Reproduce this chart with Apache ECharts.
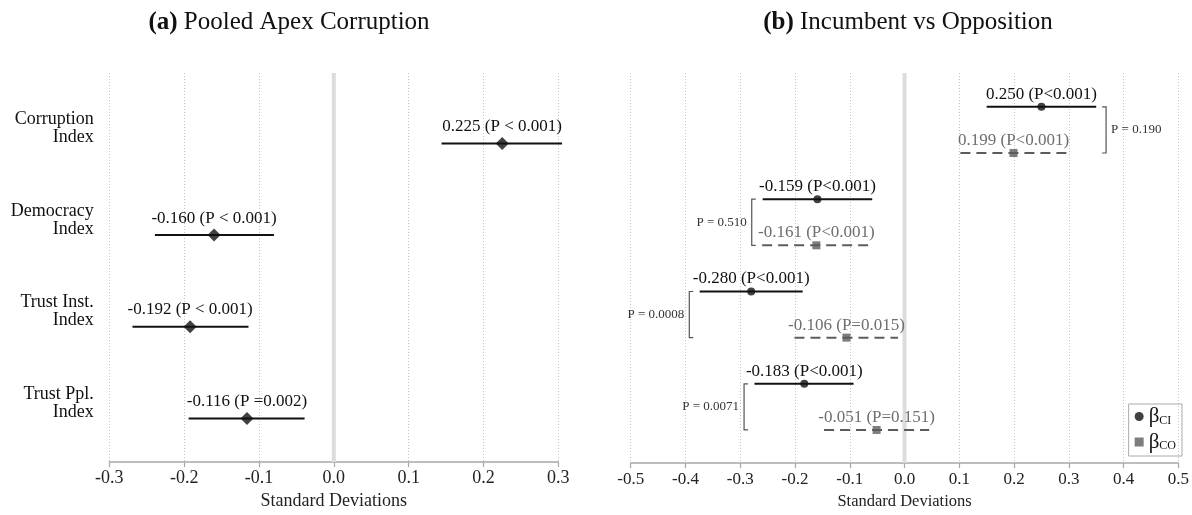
<!DOCTYPE html>
<html>
<head>
<meta charset="utf-8">
<script src="https://cdn.jsdelivr.net/npm/echarts@6/dist/echarts.min.js"></script>
<style>
  html, body { margin: 0; padding: 0; background: #fff; }
  #chart { width: 1192px; height: 515px; }
</style>
</head>
<body>
<div id="chart"></div>
<script>
// Outcome names (rows, top to bottom)
const outcomes = ['Corruption\nIndex', 'Democracy\nIndex', 'Trust Inst.\nIndex', 'Trust Ppl.\nIndex'];

// (a) pooled apex corruption effects
const pooledEst = [0.225, -0.160, -0.192, -0.116];
const pooledLo  = [0.144, -0.239, -0.269, -0.194];
const pooledHi  = [0.305, -0.080, -0.114, -0.039];
const pooledP   = ['P < 0.001', 'P < 0.001', 'P < 0.001', 'P =0.002'];

// (b) incumbent (CI) vs opposition (CO) effects
const ciEst = [0.250, -0.159, -0.280, -0.183];
const ciLo  = [0.150, -0.259, -0.374, -0.274];
const ciHi  = [0.350, -0.059, -0.186, -0.093];
const ciP   = ['P<0.001', 'P<0.001', 'P<0.001', 'P<0.001'];

const coEst = [0.199, -0.161, -0.106, -0.051];
const coLo  = [0.102, -0.260, -0.201, -0.147];
const coHi  = [0.296, -0.061, -0.012, 0.045];
const coP   = ['P<0.001', 'P<0.001', 'P=0.015', 'P=0.151'];

// difference tests between CI and CO, bracket placed beside the pair
const diffP    = ['P = 0.190', 'P = 0.510', 'P = 0.0008', 'P = 0.0071'];
const diffSide = ['right', 'left', 'left', 'left'];

const F = 'Liberation Serif, Times New Roman, serif';
const INK = '#111';
const GREY = '#5c5c5c';
const GREY_TXT = '#6e6e6e';

const fmtTick = v => (Math.abs(v) < 1e-9 ? '0.0' : v.toFixed(1));

function xAxisDef(gridIndex, min, max, fs, nameFs, margin) {
  return {
    gridIndex, type: 'value', min, max, interval: 0.1,
    name: 'Standard Deviations', nameLocation: 'middle', nameGap: 27,
    nameTextStyle: { fontFamily: F, fontSize: nameFs, color: '#222' },
    axisLine: { onZero: false, lineStyle: { color: '#a8a8a8', width: 1.5 } },
    axisTick: { length: 5, lineStyle: { color: '#a8a8a8', width: 1.2 } },
    axisLabel: { margin, fontFamily: F, fontSize: fs, color: '#222', formatter: fmtTick },
    splitLine: { show: true, lineStyle: { color: '#c4c4c4', type: [1, 2], width: 1 } }
  };
}

// horizontal interval with its value label above the estimate
function intervalRenderer(texts, color, dash, gap, fs, txtColor) {
  return function (params, api) {
    const row = api.value(0);
    const a = api.coord([api.value(1), row]);
    const b = api.coord([api.value(2), row]);
    const c = api.coord([api.value(3), row]);
    return {
      type: 'group',
      children: [
        { type: 'line', shape: { x1: a[0], y1: a[1], x2: b[0], y2: b[1] },
          style: { stroke: color, lineWidth: 2, lineDash: dash } },
        { type: 'text', x: c[0], y: c[1] - gap,
          style: { text: texts[params.dataIndex], fontFamily: F, fontSize: fs,
                   fill: txtColor, align: 'center', verticalAlign: 'middle' } }
      ]
    };
  };
}

// vertical reference line at zero spanning the plot height
function zeroRenderer(yMin, yMax) {
  return function (params, api) {
    const a = api.coord([0, yMin]);
    const b = api.coord([0, yMax]);
    return { type: 'line', shape: { x1: a[0], y1: a[1], x2: b[0], y2: b[1] },
             style: { stroke: '#dcdcdc', lineWidth: 4 } };
  };
}

const labelA = pooledEst.map((v, i) => `${v.toFixed(3)} (${pooledP[i]})`);
const labelCI = ciEst.map((v, i) => `${v.toFixed(3)} (${ciP[i]})`);
const labelCO = coEst.map((v, i) => `${v.toFixed(3)} (${coP[i]})`);

const rowsA = outcomes.map((_, i) => i + 1);
const rowsCI = outcomes.map((_, i) => 2 * i + 1);
const rowsCO = outcomes.map((_, i) => 2 * i + 2);

const A_MIN = 0.231, A_MAX = 4.477;
const B_MIN = 0.267, B_MAX = 8.718;

// bracket x-position: just beyond the outermost interval end on its side
const bracketX = outcomes.map((_, i) => diffSide[i] === 'right'
  ? Math.max(ciHi[i], coHi[i]) + 0.018
  : Math.min(ciLo[i], coLo[i]) - 0.019);

const option = {
  backgroundColor: '#fff',
  animation: false,
  title: [
    { text: '{b|(a)} Pooled Apex Corruption', left: 284, top: 5, textAlign: 'center',
      textStyle: { fontFamily: F, fontSize: 25, fontWeight: 'normal', color: INK,
        rich: { b: { fontFamily: F, fontSize: 25, fontWeight: 'bold', color: INK } } } },
    { text: '{b|(b)} Incumbent vs Opposition', left: 903, top: 5, textAlign: 'center',
      textStyle: { fontFamily: F, fontSize: 25, fontWeight: 'normal', color: INK,
        rich: { b: { fontFamily: F, fontSize: 25, fontWeight: 'bold', color: INK } } } }
  ],
  grid: [
    { left: 109.3, width: 449, top: 73, bottom: 50 },
    { left: 630.7, width: 552.5, top: 73, bottom: 50 }
  ],
  xAxis: [
    xAxisDef(0, -0.3, 0.3, 18, 18, 7),
    xAxisDef(1, -0.5, 0.5, 17, 16.5, 8)
  ],
  yAxis: [
    { gridIndex: 0, type: 'value', inverse: true, min: A_MIN, max: A_MAX, show: false },
    { gridIndex: 1, type: 'value', inverse: true, min: B_MIN, max: B_MAX, show: false }
  ],
  legend: {
    data: [{ name: 'CI', icon: 'circle' }, { name: 'CO', icon: 'rect' }],
    orient: 'vertical', right: 10, bottom: 59,
    itemWidth: 9, itemHeight: 9, itemGap: 3,
    padding: [2, 6, 2, 6],
    borderColor: '#aaa', borderWidth: 1, borderRadius: 0,
    formatter: n => `{b|β}{s|${n}}`,
    textStyle: {
      rich: {
        b: { fontFamily: F, fontSize: 21, color: INK, lineHeight: 24, verticalAlign: 'middle' },
        s: { fontFamily: F, fontSize: 12, color: INK, lineHeight: 24, verticalAlign: 'bottom', padding: [0, 0, 2, 0] }
      }
    }
  },
  series: [
    // ---- panel (a)
    { type: 'custom', xAxisIndex: 0, yAxisIndex: 0, z: 1, silent: true,
      data: [[0]], encode: { x: 0 }, renderItem: zeroRenderer(A_MIN, A_MAX) },
    { type: 'custom', xAxisIndex: 0, yAxisIndex: 0, z: 2, silent: true,
      data: rowsA.map((r, i) => [r, pooledLo[i], pooledHi[i], pooledEst[i]]),
      encode: { x: [1, 2, 3], y: 0 },
      renderItem: intervalRenderer(labelA, INK, null, 17, 17, INK) },
    { type: 'scatter', xAxisIndex: 0, yAxisIndex: 0, z: 3, silent: true,
      symbol: 'diamond', symbolSize: 13, itemStyle: { color: INK },
      data: rowsA.map((r, i) => [pooledEst[i], r]) },
    // row names on the left of panel (a)
    { type: 'custom', xAxisIndex: 0, yAxisIndex: 0, z: 3, silent: true,
      data: rowsA.map(r => [-0.3, r]), encode: { x: 0, y: 1 },
      renderItem: (params, api) => {
        const p = api.coord([api.value(0), api.value(1)]);
        return { type: 'text', x: p[0] - 15.5, y: p[1] - 15,
          style: { text: outcomes[params.dataIndex], fontFamily: F, fontSize: 18, lineHeight: 18,
                   fill: INK, align: 'right', verticalAlign: 'middle' } };
      } },

    // ---- panel (b)
    { type: 'custom', xAxisIndex: 1, yAxisIndex: 1, z: 1, silent: true,
      data: [[0]], encode: { x: 0 }, renderItem: zeroRenderer(B_MIN, B_MAX) },
    { type: 'custom', xAxisIndex: 1, yAxisIndex: 1, z: 2, silent: true,
      data: rowsCI.map((r, i) => [r, ciLo[i], ciHi[i], ciEst[i]]),
      encode: { x: [1, 2, 3], y: 0 },
      renderItem: intervalRenderer(labelCI, INK, null, 12.5, 17, INK) },
    { type: 'custom', xAxisIndex: 1, yAxisIndex: 1, z: 2, silent: true,
      data: rowsCO.map((r, i) => [r, coLo[i], coHi[i], coEst[i]]),
      encode: { x: [1, 2, 3], y: 0 },
      renderItem: intervalRenderer(labelCO, GREY, [10, 6], 12.5, 17, GREY_TXT) },
    { name: 'CI', type: 'scatter', xAxisIndex: 1, yAxisIndex: 1, z: 3, silent: true,
      symbol: 'circle', symbolSize: 8, itemStyle: { color: INK },
      data: rowsCI.map((r, i) => [ciEst[i], r]) },
    { name: 'CO', type: 'scatter', xAxisIndex: 1, yAxisIndex: 1, z: 3, silent: true,
      symbol: 'rect', symbolSize: 8, itemStyle: { color: GREY },
      data: rowsCO.map((r, i) => [coEst[i], r]) },
    // brackets with difference-test p-values
    { type: 'custom', xAxisIndex: 1, yAxisIndex: 1, z: 3, silent: true,
      data: outcomes.map((_, i) => [bracketX[i], rowsCI[i], rowsCO[i]]),
      encode: { x: 0, y: [1, 2] },
      renderItem: (params, api) => {
        const i = params.dataIndex;
        const top = api.coord([api.value(0), api.value(1)]);
        const bot = api.coord([api.value(0), api.value(2)]);
        const right = diffSide[i] === 'right';
        const t = right ? -4 : 4;
        const stroke = { stroke: '#555', lineWidth: 1.2, fill: null };
        return {
          type: 'group',
          children: [
            { type: 'polyline',
              shape: { points: [[top[0] + t, top[1]], [top[0], top[1]], [bot[0], bot[1]], [bot[0] + t, bot[1]]] },
              style: stroke },
            { type: 'text', x: right ? top[0] + 5 : top[0] - 5, y: (top[1] + bot[1]) / 2,
              style: { text: diffP[i], fontFamily: F, fontSize: 13, fill: '#333',
                       align: right ? 'left' : 'right', verticalAlign: 'middle' } }
          ]
        };
      } }
  ]
};

const chart = echarts.init(document.getElementById('chart'), null, { renderer: 'canvas' });
chart.setOption(option);
</script>
</body>
</html>
